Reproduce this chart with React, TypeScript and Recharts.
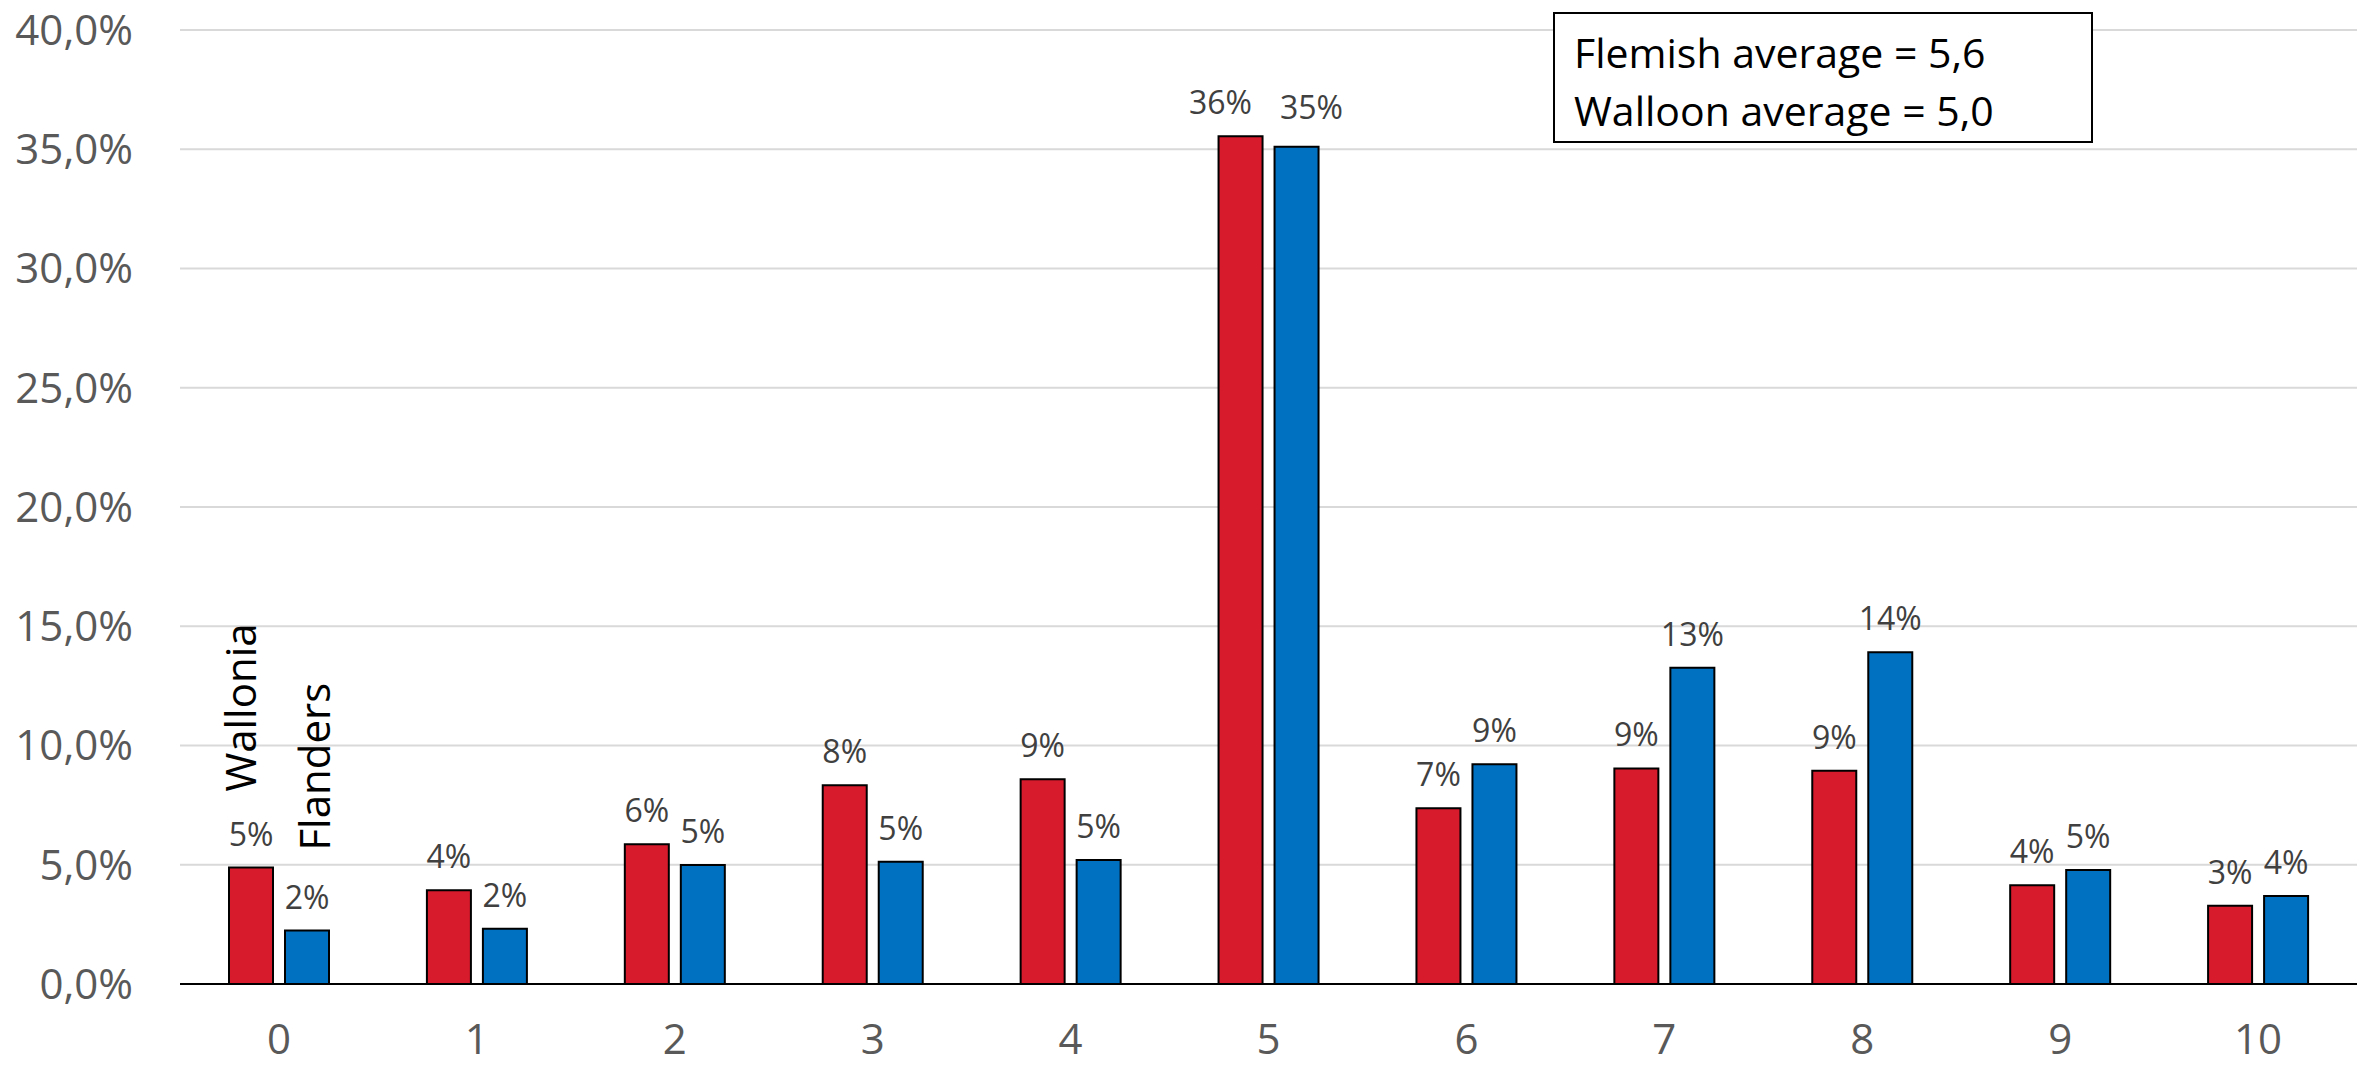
import React from 'react';
import { BarChart, Bar, XAxis, YAxis, CartesianGrid, LabelList } from 'recharts';

const scores = ['0', '1', '2', '3', '4', '5', '6', '7', '8', '9', '10'];
const wallonia = [4.88, 3.93, 5.86, 8.33, 8.58, 35.55, 7.37, 9.04, 8.94, 4.14, 3.28];
const flanders = [2.24, 2.32, 4.99, 5.13, 5.2, 35.1, 9.21, 13.26, 13.91, 4.78, 3.69];
const yTicks = [0, 5, 10, 15, 20, 25, 30, 35, 40];
const summaryLines = ['Flemish average = 5,6', 'Walloon average = 5,0'];

const FONT = '"Open Sans", sans-serif';
const RED = '#D81A2D';
const BLUE = '#0070C0';

const data = scores.map((s, i) => ({ score: s, wallonia: wallonia[i], flanders: flanders[i] }));

const axisPct = (v: number) => `${v.toFixed(1).replace('.', ',')}%`;

// value label above a bar; the tall pair at 5 has its labels pushed apart
const valueLabel = (nudge: number, lift: number) => (props: any) => {
  const { x, y, width, value, index } = props;
  const tall = index === 5;
  const cx = x + width / 2 + (tall ? nudge : 0);
  const cy = y - 22 - (tall ? lift : 0);
  return (
    <text x={cx} y={cy} textAnchor="middle" fontFamily={FONT} fontSize={32} fill="#404040">
      {`${Math.round(value)}%`}
    </text>
  );
};

// series name written vertically above the first pair of bars
const seriesTag = (name: string, dx: number, dy: number) => (props: any) => {
  const { x, y, width, index } = props;
  if (index !== 0) return null;
  const cx = x + width / 2 + dx;
  const cy = y - dy;
  return (
    <text
      x={cx}
      y={cy}
      transform={`rotate(-90 ${cx} ${cy})`}
      fontFamily={FONT}
      fontSize={42}
      fill="#000"
    >
      {name}
    </text>
  );
};

export default function App() {
  return (
    <div style={{ position: 'absolute', left: 0, top: 0, width: 2357, height: 1065, background: '#fff' }}>
      <BarChart
        width={2357}
        height={1065}
        data={data}
        margin={{ top: 30, right: 0, bottom: 0, left: 0 }}
        barSize={44}
        barGap={12}
      >
        <CartesianGrid vertical={false} stroke="#D9D9D9" strokeWidth={2} />
        <XAxis
          dataKey="score"
          height={81}
          axisLine={{ stroke: '#000', strokeWidth: 2 }}
          tickLine={false}
          tickMargin={34}
          tick={{ fill: '#595959', fontSize: 42, fontFamily: FONT }}
        />
        <YAxis
          width={180}
          domain={[0, 40]}
          ticks={yTicks}
          tickFormatter={axisPct}
          axisLine={false}
          tickLine={false}
          tickMargin={41}
          tick={{ fill: '#595959', fontSize: 42, fontFamily: FONT }}
        />
        <Bar dataKey="wallonia" fill={RED} stroke="#000" strokeWidth={2} isAnimationActive={false}>
          <LabelList dataKey="wallonia" content={valueLabel(-20, 0)} />
          <LabelList dataKey="wallonia" content={seriesTag('Wallonia', 5, 76)} />
        </Bar>
        <Bar dataKey="flanders" fill={BLUE} stroke="#000" strokeWidth={2} isAnimationActive={false}>
          <LabelList dataKey="flanders" content={valueLabel(15, 6)} />
          <LabelList dataKey="flanders" content={seriesTag('Flanders', 23, 80)} />
        </Bar>
      </BarChart>
      <div
        style={{
          position: 'absolute',
          left: 1553,
          top: 12,
          width: 540,
          height: 131,
          border: '2px solid #000',
          background: '#fff',
          fontFamily: FONT,
          fontSize: 41,
          color: '#000',
          lineHeight: '58px',
          paddingLeft: 19,
          paddingTop: 9,
          boxSizing: 'border-box',
        }}
      >
        {summaryLines.map((l) => (
          <div key={l}>{l}</div>
        ))}
      </div>
    </div>
  );
}
